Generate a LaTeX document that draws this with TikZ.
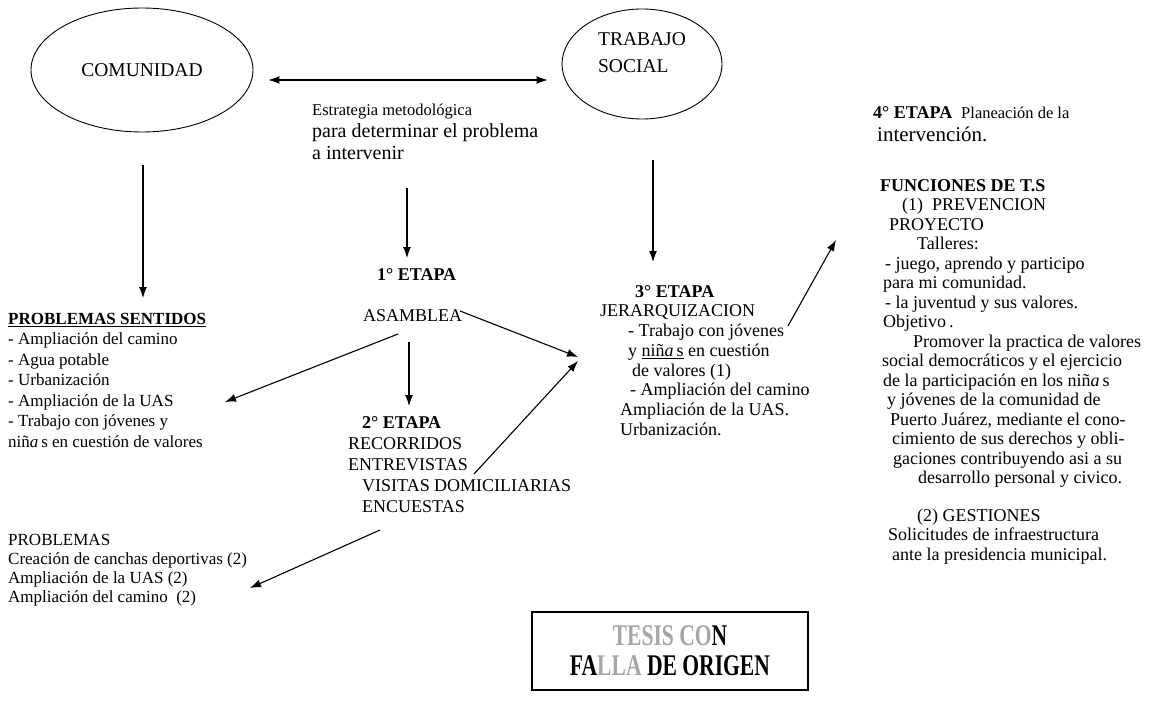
\documentclass[tikz,border=0pt]{standalone}
\usepackage{fontspec}
\setmainfont{Liberation Serif}
\usepackage{tikz}
\usetikzlibrary{arrows.meta}
\usetikzlibrary{shapes.geometric}
\usetikzlibrary{positioning}
\newcommand{\ninas}{niñ\textit{a}\,s}
\newcommand{\alto}{\rule{0pt}{24pt}}
\tikzset{
  globo/.style={draw, ellipse, line width=0.9pt, inner sep=0pt, font=\fontsize{19.5}{27}\selectfont},
  texto/.style={anchor=north west, inner sep=0pt, align=left, font=\fontsize{17}{20.5}\selectfont},
  medio/.style={texto, font=\fontsize{18}{21}\selectfont},
  derecha/.style={texto, font=\fontsize{18}{19.5}\selectfont},
  flecha/.style={line width=1.1pt, -{Latex[length=11pt,width=8pt]}},
  doble/.style={line width=1.1pt, {Latex[length=11pt,width=8pt]}-{Latex[length=11pt,width=8pt]}},
  sello/.style={draw, line width=1.6pt, inner sep=0pt, align=center, font=\fontsize{30}{30}\selectfont\bfseries}
}
\begin{document}
\begin{tikzpicture}[x=1pt,y=-1pt]
\useasboundingbox (0,0) rectangle (1155,719);
%% parte superior
\node[globo, minimum width=222pt, minimum height=124pt] (comunidad) at (142,70) {COMUNIDAD};
\node[globo, minimum width=160pt, minimum height=110pt, align=left] (tsocial) at (642,64) {TRABAJO\\SOCIAL\\[-5pt]};
\node[texto, font=\fontsize{20}{22}\selectfont] (estrategia) at (312,91) {\alto{\fontsize{16.5}{22}\selectfont Estrategia metodológica}\\para determinar el problema\\a intervenir};
%% etapas
\node[medio] (etapa1) at (377,256) {\alto\textbf{1° ETAPA}};
\node[medio] (asamblea) at (363,297) {\alto ASAMBLEA};
\node[texto] (psentidos) at (8,300) {\alto\underline{\textbf{PROBLEMAS SENTIDOS}}\\- Ampliación del camino\\- Agua potable\\- Urbanización\\- Ampliación de la UAS\\- Trabajo con jóvenes y\\\ninas{} en cuestión de valores};
\node[medio] (etapa2) at (348,404) {\alto\hspace*{14pt}\textbf{2° ETAPA}\\RECORRIDOS\\ENTREVISTAS\\\hspace*{14pt}VISITAS DOMICILIARIAS\\\hspace*{14pt}ENCUESTAS};
\node[texto, font=\fontsize{17}{19}\selectfont] (problemas) at (8,521) {\alto PROBLEMAS\\Creación de canchas deportivas (2)\\Ampliación de la UAS (2)\\Ampliación del camino~~(2)};
\node[medio, font=\fontsize{18}{19.7}\selectfont] (etapa3) at (600,273) {\alto\hspace*{35pt}\textbf{3° ETAPA}\\JERARQUIZACION\\\hspace*{28pt}- Trabajo con jóvenes\\\hspace*{28pt}y \underline{\ninas} en cuestión\\\hspace*{32pt}de valores (1)\\\hspace*{30pt}- Ampliación del camino\\\hspace*{20pt}Ampliación de la UAS.\\\hspace*{20pt}Urbanización.};
%% columna derecha
\node[derecha] (etapa4) at (873,94) {\alto\textbf{4° ETAPA}~~{\fontsize{16.5}{19.5}\selectfont Planeación de la}\\[4pt]\hspace*{4pt}{\fontsize{21}{19.5}\selectfont intervención.}};
\node[derecha] (funciones) at (880,167) {\alto\textbf{FUNCIONES DE T.S}\\\hspace*{22pt}(1)~~PREVENCION\\\hspace*{9pt}PROYECTO\\\hspace*{37pt}Talleres:\\\hspace*{5pt}- juego, aprendo y participo\\\hspace*{3pt}para mi comunidad.\\\hspace*{5pt}- la juventud y sus valores.\\\hspace*{3pt}Objetivo\,.\\\hspace*{33pt}Promover la practica de valores\\\hspace*{2pt}social democráticos y el ejercicio\\\hspace*{3pt}de la participación en los \ninas\\\hspace*{7pt}y jóvenes de la comunidad de\\\hspace*{10pt}Puerto Juárez, mediante el cono-\\\hspace*{12pt}cimiento de sus derechos y obli-\\\hspace*{13pt}gaciones contribuyendo asi a su\\\hspace*{38pt}desarrollo personal y civico.};
\node[derecha] (gestiones) at (888,497) {\alto\hspace*{29pt}(2) GESTIONES\\Solicitudes de infraestructura\\\hspace*{4pt}ante la presidencia municipal.};
\node[sello, minimum width=276pt, minimum height=78pt] (tesis) at (670,651) {\scalebox{0.72}[1]{{\color{black!35}TESIS CO}N}\\\scalebox{0.72}[1]{FA{\color{black!35}LLA} DE ORIGEN}};
%% flechas
\draw[doble] ([shift={(15,10)}]comunidad.east) -- ([shift={(-14,16)}]tsocial.west);
\draw[flecha] ([shift={(1,33)}]comunidad.south) -- ([shift={(135,-2)}]psentidos.north west);
\draw[flecha] ([shift={(95,97)}]estrategia.north west) -- ([shift={(30,2)}]etapa1.north west);
\draw[flecha] ([shift={(11,41)}]tsocial.south) -- ([shift={(53,-11)}]etapa3.north west);
\draw[flecha] ([shift={(35,37)}]asamblea.north west) -- ([shift={(217,102)}]psentidos.north west);
\draw[flecha] ([shift={(46,45)}]asamblea.north west) -- ([shift={(61,2)}]etapa2.north west);
\draw[flecha] ([shift={(97,14)}]asamblea.north west) -- ([shift={(-22,84)}]etapa3.north west);
\draw[flecha] ([shift={(126,70)}]etapa2.north west) -- ([shift={(-22,88)}]etapa3.north west);
\draw[flecha] ([shift={(32,126)}]etapa2.north west) -- ([shift={(242,67)}]problemas.north west);
\draw[flecha] ([shift={(188,53)}]etapa3.north west) -- ([shift={(-44,73)}]funciones.north west);
\end{tikzpicture}
\end{document}
